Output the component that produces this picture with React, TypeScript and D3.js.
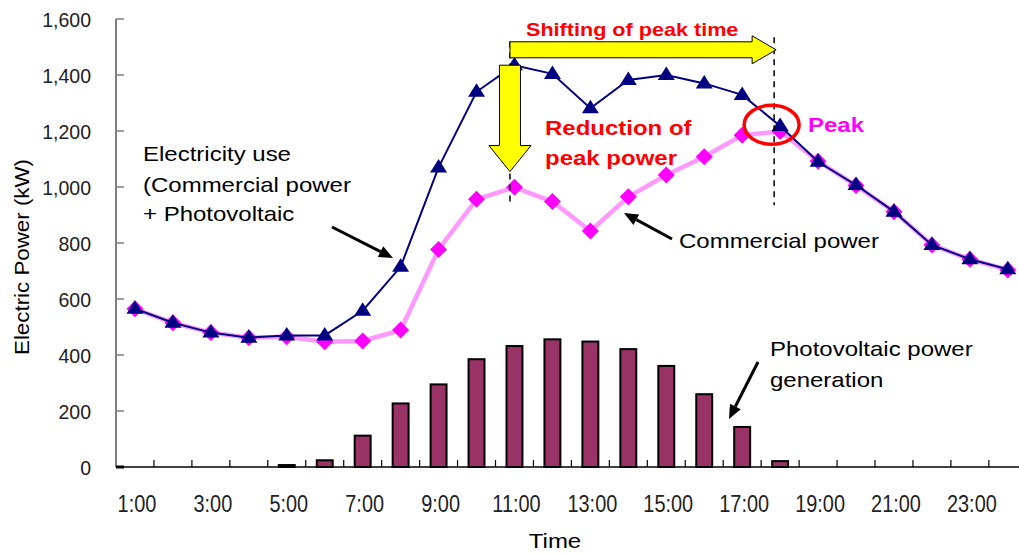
import React from "react";
import * as d3 from "d3";

const timeLabels = ["1:00","2:00","3:00","4:00","5:00","6:00","7:00","8:00","9:00","10:00","11:00","12:00","13:00","14:00","15:00","16:00","17:00","18:00","19:00","20:00","21:00","22:00","23:00","24:00"];
const electricityUse = [565,515,480,462,470,470,558,715,1070,1340,1435,1404,1281,1382,1400,1370,1329,1218,1090,1007,912,793,742,706];
const commercialPower = [565,515,480,462,465,447,450,489,777,956,999,948,843,965,1043,1108,1185,1198,1092,1005,912,793,742,704];
const pvGeneration = [0,0,0,0,7,24,112,227,295,385,432,456,448,421,361,260,143,21,0,0,0,0,0,0];
const yTicks = [0,200,400,600,800,1000,1200,1400,1600];

const W = 1019, H = 554;
const X0 = 116, BW = 37.95, Y0 = 467, Y1 = 19;
const FONT = "'Liberation Sans', Arial, sans-serif";

function Arrow({ x1, y1, x2, y2 }: { x1: number; y1: number; x2: number; y2: number }) {
  const a = Math.atan2(y2 - y1, x2 - x1);
  const L = 14, Wd = 6;
  const bx = x2 - L * Math.cos(a), by = y2 - L * Math.sin(a);
  const px = -Math.sin(a) * Wd, py = Math.cos(a) * Wd;
  return (
    <g>
      <line x1={x1} y1={y1} x2={bx} y2={by} stroke="#000" strokeWidth={3} />
      <polygon points={`${x2},${y2} ${bx + px},${by + py} ${bx - px},${by - py}`} fill="#000" />
    </g>
  );
}

function SText({ x, y, children, size = 20, weight = "normal", fill = "#000", sx = 1.2 }: any) {
  return (
    <g transform={`translate(${x},${y}) scale(${sx},1)`}>
      <text x={0} y={0} fontFamily={FONT} fontSize={size} fontWeight={weight} fill={fill}>{children}</text>
    </g>
  );
}

export default function App() {
  const x = d3.scaleBand<string>().domain(timeLabels).range([X0, X0 + BW * timeLabels.length]).padding(0);
  const y = d3.scaleLinear().domain([0, 1600]).range([Y0, Y1]);
  const bw = x.bandwidth();
  const cx = (i: number) => (x(timeLabels[i]) as number) + bw / 2;

  const line = d3.line<number>().x((_, i) => cx(i)).y((d) => y(d));
  const tri = "M0,-8.5L8.5,5L-8.5,5Z";
  const diamond = "M0,-8.5L8.5,0L0,8.5L-8.5,0Z";
  const barW = bw * 0.42;

  const x11 = cx(10) - 4.5;
  const x18 = cx(17) - 6;
  const yShift = y(1490);

  return (
    <svg width={W} height={H} style={{ position: "absolute", left: 0, top: 0, background: "#fff" }}>
      {/* bars */}
      {pvGeneration.map((v, i) =>
        v > 0 ? (
          <rect key={i} x={cx(i) - barW / 2} y={y(v)} width={barW} height={Y0 - y(v)} fill="#993366" stroke="#000" strokeWidth={2} />
        ) : null
      )}
      {/* axes */}
      <line x1={X0} y1={Y1} x2={X0} y2={Y0} stroke="#808080" strokeWidth={2} />
      {yTicks.map((t) => (
        <g key={t}>
          <line x1={X0} x2={X0 + 8} y1={y(t)} y2={y(t)} stroke={t === 0 ? "#000" : "#808080"} strokeWidth={t === 0 ? 3 : 1.5} />
          <g transform={`translate(91,${y(t)}) scale(0.93,1)`}>
            <text x={0} y={0} dy="0.36em" textAnchor="end" fontFamily={FONT} fontSize={21} fill="#222">{d3.format(",")(t)}</text>
          </g>
        </g>
      ))}
      <line x1={X0} y1={Y0} x2={W} y2={Y0} stroke="#000" strokeWidth={1.5} />
      {timeLabels.map((t, i) => (
        <line key={t} x1={X0 + (i + 1) * bw} x2={X0 + (i + 1) * bw} y1={Y0} y2={Y0 - 7} stroke="#000" strokeWidth={1.2} />
      ))}
      {timeLabels.map((t, i) =>
        i % 2 === 0 ? (
          <g key={t} transform={`translate(${cx(i) + 2},512) scale(0.83,1)`}>
            <text textAnchor="middle" fontFamily={FONT} fontSize={24} fill="#222">{t}</text>
          </g>
        ) : null
      )}
      <g transform="translate(555,548) scale(1.2,1)">
        <text textAnchor="middle" fontFamily={FONT} fontSize={20} fill="#000">Time</text>
      </g>
      <text transform="translate(28.5,257) rotate(-90)" textAnchor="middle" fontFamily={FONT} fontSize={21} textLength={196} lengthAdjust="spacingAndGlyphs" fill="#000">Electric Power (kW)</text>

      {/* commercial power */}
      <path d={line(commercialPower) || ""} fill="none" stroke="#FF99FF" strokeWidth={4.5} />
      {commercialPower.map((v, i) => (
        <path key={i} d={diamond} transform={`translate(${cx(i)},${y(v)})`} fill="#FF00FF" />
      ))}
      {/* electricity use */}
      <path d={line(electricityUse) || ""} fill="none" stroke="#000080" strokeWidth={2} />
      {electricityUse.map((v, i) => (
        <path key={i} d={tri} transform={`translate(${cx(i)},${y(v)})`} fill="#000080" />
      ))}

      {/* dashed lines */}
      <line x1={x11} x2={x11} y1={y(1520)} y2={y(930)} stroke="#000" strokeWidth={1.5} strokeDasharray="6,5" />
      <line x1={x18} x2={x18} y1={y(1535)} y2={y(935)} stroke="#000" strokeWidth={1.5} strokeDasharray="6,5" />

      {/* shifting arrow */}
      <polygon
        points={`${x11},${yShift - 8} ${x18 - 22},${yShift - 8} ${x18 - 22},${yShift - 14} ${x18 + 2},${yShift} ${x18 - 22},${yShift + 14} ${x18 - 22},${yShift + 8} ${x11},${yShift + 8}`}
        fill="#FFFF00" stroke="#000" strokeWidth={1}
      />
      {/* reduction arrow */}
      <polygon
        points={`${x11 - 10.5},${y(1435)} ${x11 + 10.5},${y(1435)} ${x11 + 10.5},${y(1148)} ${x11 + 21},${y(1148)} ${x11},${y(1055)} ${x11 - 21},${y(1148)} ${x11 - 10.5},${y(1148)}`}
        fill="#FFFF00" stroke="#000" strokeWidth={1}
      />
      {/* peak ellipse */}
      <ellipse cx={x18 - 2.5} cy={y(1222)} rx={27.5} ry={19.5} fill="none" stroke="#FF0000" strokeWidth={3.5} />

      {/* texts */}
      <SText x={526} y={36} size={18} weight="bold" fill="#FF0000">Shifting of peak time</SText>
      <SText x={545} y={134.5} size={20} weight="bold" fill="#FF0000">Reduction of</SText>
      <SText x={545} y={165} size={20} weight="bold" fill="#FF0000">peak power</SText>
      <SText x={808} y={131.5} size={20} weight="bold" fill="#FF00FF">Peak</SText>
      <SText x={143} y={161}>Electricity use</SText>
      <SText x={143} y={191.5}>(Commercial power</SText>
      <SText x={143} y={221}>+ Photovoltaic</SText>
      <SText x={679} y={248}>Commercial power</SText>
      <SText x={770} y={356}>Photovoltaic power</SText>
      <SText x={770} y={387}>generation</SText>

      <Arrow x1={332} y1={227} x2={393} y2={258} />
      <Arrow x1={672} y1={239} x2={624} y2={213} />
      <Arrow x1={758} y1={362} x2={729} y2={419} />
    </svg>
  );
}
